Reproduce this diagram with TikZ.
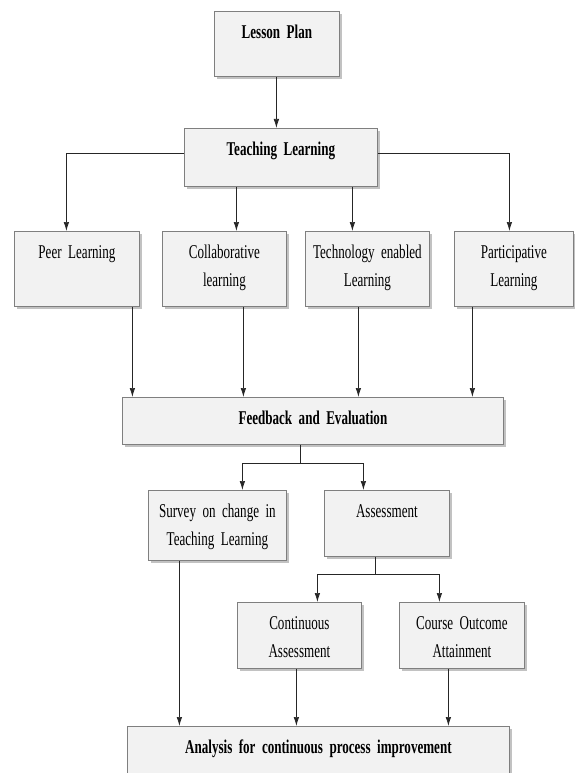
\documentclass[tikz,border=0pt]{standalone}
\usepackage{fontspec}
\setmainfont{Liberation Serif}[FakeStretch=0.67]
\usetikzlibrary{arrows.meta,shadows}
\definecolor{boxfill}{HTML}{F2F2F2}
\definecolor{boxline}{HTML}{7F7F7F}
\protected\def\blkfont{\fontsize{19.5}{28}\selectfont\spaceskip=3.4pt plus 1pt minus 0.5pt\relax}

\begin{document}
\begin{tikzpicture}[x=1pt,y=-1pt,
    blk/.style={draw=boxline,fill=boxfill,line width=0.8pt,inner sep=0pt,anchor=north west,
        align=center,text height=27pt,
        drop shadow={shadow xshift=2.5pt,shadow yshift=-2.5pt,fill=black!40,opacity=.6},
        font=\blkfont},
    arr/.style={draw=black!85,line width=0.7pt,-{Latex[length=9pt,width=5.5pt]}}]
    \useasboundingbox (0,0) rectangle (574,773);

    \node[blk,text width=125pt,text depth=38pt] (lesson) at (214,11) {\bfseries Lesson Plan};
    \node[blk,text width=193pt,text depth=31pt] (teach) at (184,128) {\bfseries Teaching Learning};

    \node[blk,text width=125pt,text depth=48pt] (peer) at (14,231) {Peer Learning};
    \node[blk,text width=124pt,text depth=48pt] (collab) at (162,231) {Collaborative\\learning};
    \node[blk,text width=124pt,text depth=48pt] (tech) at (305,231) {Technology enabled\\Learning};
    \node[blk,text width=119pt,text depth=48pt] (partic) at (454,231) {Participative\\Learning};

    \node[blk,text width=381pt,text depth=20pt] (feedback) at (122,397) {\bfseries Feedback and Evaluation};

    \node[blk,text width=138pt,text depth=43pt] (survey) at (148,490) {Survey on change in\\Teaching Learning};
    \node[blk,text width=125pt,text depth=39pt] (assess) at (324,490) {Assessment};

    \node[blk,text width=124pt,text depth=39pt] (contin) at (237,602) {Continuous\\Assessment};
    \node[blk,text width=125pt,text depth=39pt] (course) at (399,602) {Course Outcome\\Attainment};

    \node[blk,text width=382pt,text depth=40pt] (analysis) at (127,726) {\bfseries Analysis for continuous process improvement};

    \draw[arr] ([xshift=-0.5pt]lesson.south) -- ([xshift=-0.5pt]lesson.south |- teach.north);

    \draw[arr] ([yshift=4pt]teach.west) -| ([xshift=-10.5pt]peer.north);
    \draw[arr] ([yshift=4pt]teach.east) -| ([xshift=-4.5pt]partic.north);
    \draw[arr] ([xshift=12pt]collab.north |- teach.south) -- ([xshift=12pt]collab.north);
    \draw[arr] ([xshift=-15pt]tech.north |- teach.south) -- ([xshift=-15pt]tech.north);

    \draw[arr] ([xshift=55.5pt]peer.south) -- ([xshift=55.5pt]peer.south |- feedback.north);
    \draw[arr] ([xshift=19pt]collab.south) -- ([xshift=19pt]collab.south |- feedback.north);
    \draw[arr] ([xshift=-9pt]tech.south) -- ([xshift=-9pt]tech.south |- feedback.north);
    \draw[arr] ([xshift=-41.5pt]partic.south) -- ([xshift=-41.5pt]partic.south |- feedback.north);

    \draw[arr] ([xshift=-12.5pt]feedback.south) -- ++(0,19) -| ([xshift=25pt]survey.north);
    \draw[arr] ([xshift=-12.5pt]feedback.south) -- ++(0,19) -| ([xshift=-23.5pt]assess.north);

    \draw[arr] ([xshift=-11.5pt]assess.south) -- ++(0,18) -| ([xshift=18pt]contin.north);
    \draw[arr] ([xshift=-11.5pt]assess.south) -- ++(0,18) -| ([xshift=-22.5pt]course.north);

    \draw[arr] ([xshift=-38pt]survey.south) -- ([xshift=-38pt]survey.south |- analysis.north);
    \draw[arr] ([xshift=-3pt]contin.south) -- ([xshift=-3pt]contin.south |- analysis.north);
    \draw[arr] ([xshift=-13.5pt]course.south) -- ([xshift=-13.5pt]course.south |- analysis.north);
\end{tikzpicture}
\end{document}
